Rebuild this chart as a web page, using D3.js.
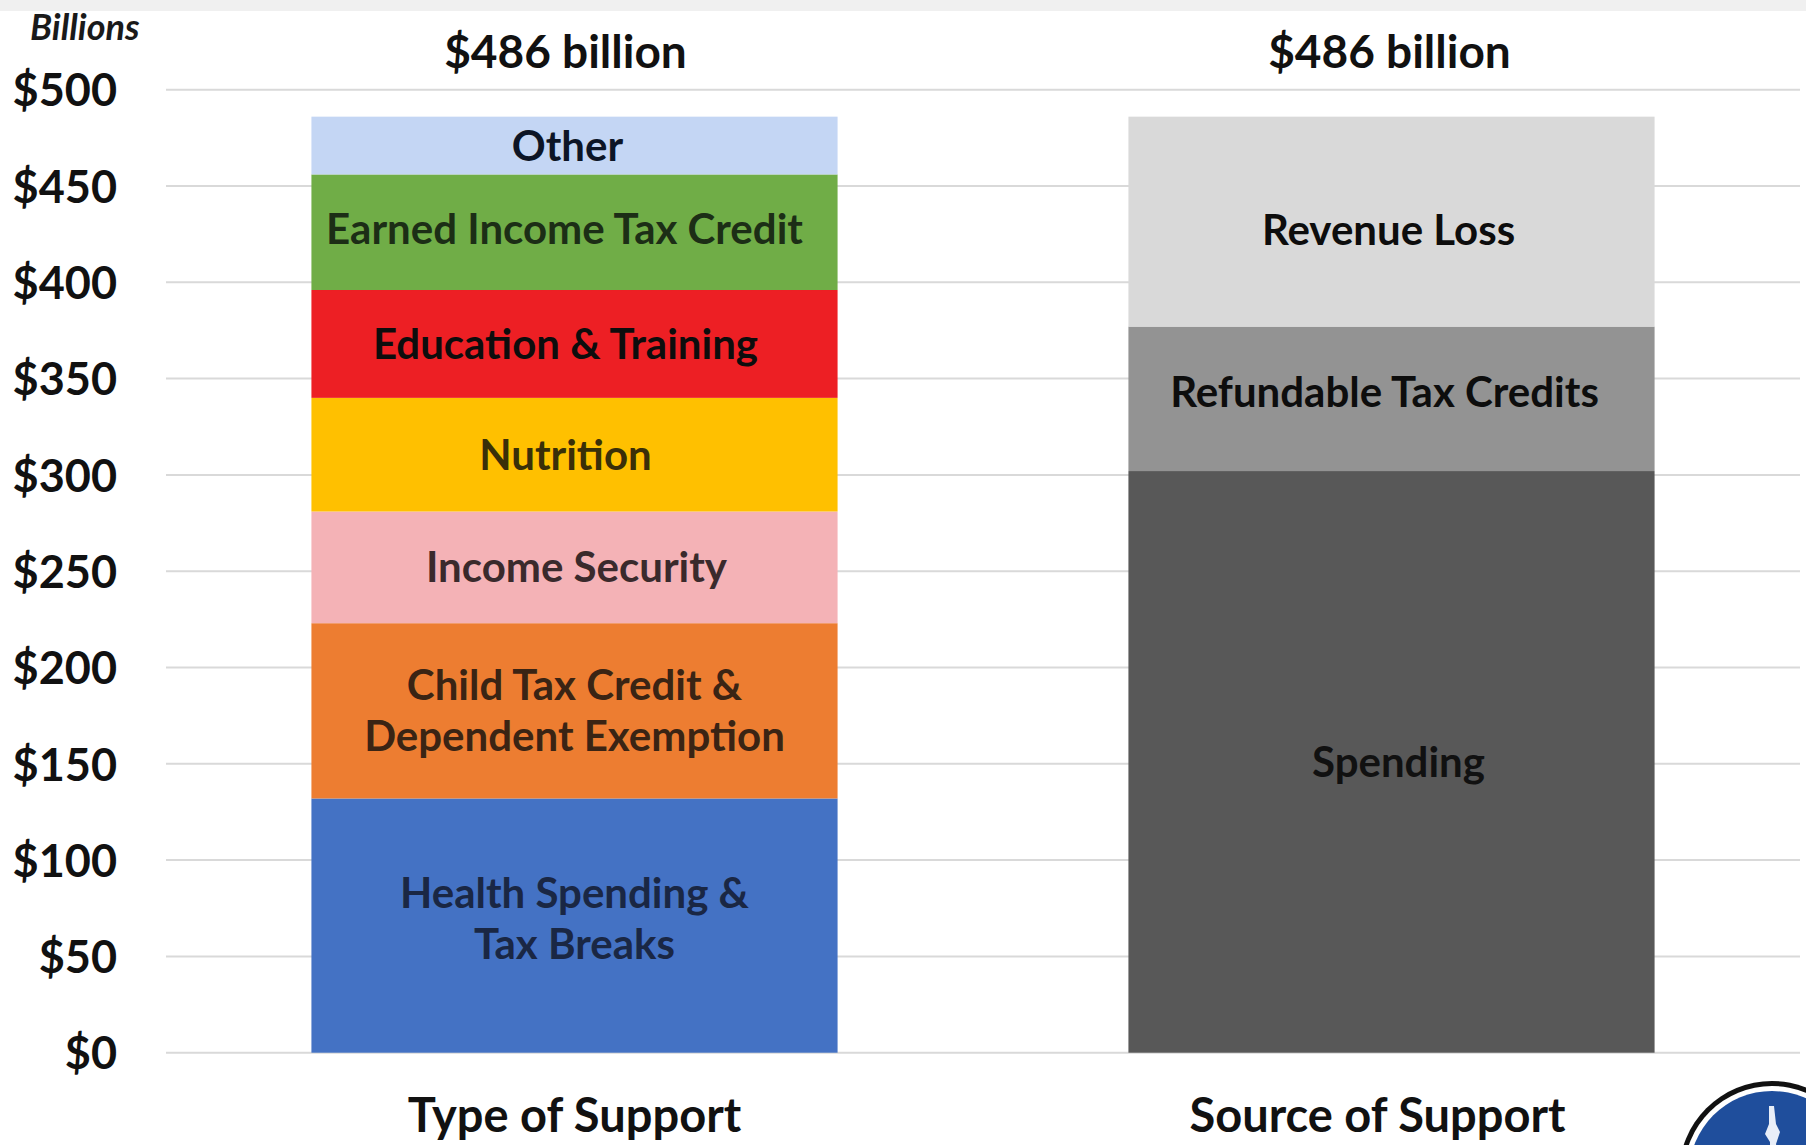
<!DOCTYPE html>
<html>
<head>
<meta charset="utf-8">
<script src="https://cdn.jsdelivr.net/npm/d3@7"></script>
<style>
  html, body { margin: 0; padding: 0; background: #ffffff; }
  svg { display: block; }
  text { font-family: Lato, "Open Sans", sans-serif; font-weight: 700; }
</style>
</head>
<body>
<svg id="chart" width="1806" height="1145"></svg>
<script>
// ---------- data ----------
const categories = ["Type of Support", "Source of Support"];
const totalLabels = ["$486 billion", "$486 billion"];

const typeSegments = ["Health Spending & Tax Breaks", "Child Tax Credit & Dependent Exemption", "Income Security", "Nutrition", "Education & Training", "Earned Income Tax Credit", "Other"];
const typeLabelLines = [["Health Spending &", "Tax Breaks"], ["Child Tax Credit &", "Dependent Exemption"], ["Income Security"], ["Nutrition"], ["Education & Training"], ["Earned Income Tax Credit"], ["Other"]];
const typeValues = [132, 91, 58, 59, 56, 60, 30];

const sourceSegments = ["Spending", "Refundable Tax Credits", "Revenue Loss"];
const sourceLabelLines = [["Spending"], ["Refundable Tax Credits"], ["Revenue Loss"]];
const sourceValues = [302, 75, 109];

const yTicks = [0, 50, 100, 150, 200, 250, 300, 350, 400, 450, 500];
const yAxisTitle = "Billions";

// ---------- styles ----------
const typeColors = ["#4472c4", "#ed7d31", "#f4b2b6", "#ffc000", "#ed1f24", "#70ad47", "#c4d6f4"];
const typeTextColors = ["#1a2744", "#3a2414", "#3a2a2c", "#3a2f08", "#0d0d0d", "#1c2e16", "#0d1526"];
const sourceColors = ["#585858", "#939393", "#d9d9d9"];
const sourceTextColors = ["#111111", "#0d0d0d", "#0d0d0d"];
// small label nudges (px) to mirror the original placement
const typeLabelShift = [[0, -7], [0, 0], [2, 0], [-9, 0], [-9, 0], [-10, -3], [-7, 0]];
const sourceLabelShift = [[7, 0], [-7, -7], [-3, 8]];

// ---------- layout ----------
const svg = d3.select("#chart");
const W = 1806, H = 1145;
const plot = { left: 166, right: 1800, top: 89.7, bottom: 1052.7 };

svg.append("rect").attr("x", 0).attr("y", 0).attr("width", W).attr("height", 11).attr("fill", "#f0f0f0");

const y = d3.scaleLinear().domain([0, 500]).range([plot.bottom, plot.top]);
const x = d3.scaleBand().domain(categories).range([plot.left, plot.right]).paddingInner(0.356).paddingOuter(0.178);

// gridlines
svg.append("g").selectAll("line").data(yTicks).join("line")
  .attr("x1", plot.left).attr("x2", plot.right)
  .attr("y1", d => y(d)).attr("y2", d => y(d))
  .attr("stroke", "#d9d9d9").attr("stroke-width", 2);

// y axis labels
const yAxis = d3.axisLeft(y).tickValues(yTicks).tickSize(0).tickPadding(0).tickFormat(d => "$" + d);
const gy = svg.append("g").attr("transform", "translate(117,0)").call(yAxis);
gy.select(".domain").remove();
gy.selectAll("text").attr("font-size", 45).attr("font-family", "Lato, sans-serif").attr("font-weight", 700).attr("fill", "#111").attr("dy", "0.36em");

svg.append("text").attr("x", 30).attr("y", 40).attr("font-size", 36).attr("font-style", "italic").attr("fill", "#1a1a1a").text(yAxisTitle);

// stacking helper
function drawStack(cat, names, values, colors, textColors, lines, shifts) {
  let cum = 0;
  const segs = values.map((v, i) => { const s = { name: names[i], y0: cum, y1: cum + v, i }; cum += v; return s; });
  const g = svg.append("g");
  g.selectAll("rect").data(segs).join("rect")
    .attr("x", x(cat)).attr("width", x.bandwidth())
    .attr("y", d => y(d.y1)).attr("height", d => y(d.y0) - y(d.y1))
    .attr("fill", d => colors[d.i]);
  const lh = 51;
  segs.forEach(d => {
    const cy = (y(d.y0) + y(d.y1)) / 2 + shifts[d.i][1];
    const cx = x(cat) + x.bandwidth() / 2 + shifts[d.i][0];
    const ls = lines[d.i];
    ls.forEach((t, k) => {
      g.append("text")
        .attr("x", cx)
        .attr("y", cy + (k - (ls.length - 1) / 2) * lh)
        .attr("dy", "0.36em")
        .attr("text-anchor", "middle")
        .attr("font-size", 42)
        .attr("fill", textColors[d.i])
        .text(t);
    });
  });
  return cum;
}

drawStack(categories[0], typeSegments, typeValues, typeColors, typeTextColors, typeLabelLines, typeLabelShift);
drawStack(categories[1], sourceSegments, sourceValues, sourceColors, sourceTextColors, sourceLabelLines, sourceLabelShift);

// totals above bars
const totalShift = [-9, -2];
svg.append("g").selectAll("text").data(categories).join("text")
  .attr("x", (d, i) => x(d) + x.bandwidth() / 2 + totalShift[i])
  .attr("y", 51).attr("dy", "0.36em")
  .attr("text-anchor", "middle").attr("font-size", 46).attr("fill", "#111")
  .text((d, i) => totalLabels[i]);

// category labels
const catShift = [0, -14];
svg.append("g").selectAll("text").data(categories).join("text")
  .attr("x", (d, i) => x(d) + x.bandwidth() / 2 + catShift[i])
  .attr("y", 1115).attr("dy", "0.36em")
  .attr("text-anchor", "middle").attr("font-size", 47).attr("fill", "#111")
  .text(d => d);

// logo (partially visible seal)
const logo = svg.append("g").attr("transform", "translate(1772,1174)");
logo.append("circle").attr("r", 93).attr("fill", "#111");
logo.append("circle").attr("r", 88).attr("fill", "#ffffff");
logo.append("circle").attr("r", 83).attr("fill", "#1f4e9c");
logo.append("path").attr("d", "M-3,-68 L2,-68 L4,-50 L8,-42 L4,-30 L6,-20 L-2,-20 L-2,-32 L-7,-40 L-3,-50 Z").attr("fill", "#e8eef8");
</script>
</body>
</html>
